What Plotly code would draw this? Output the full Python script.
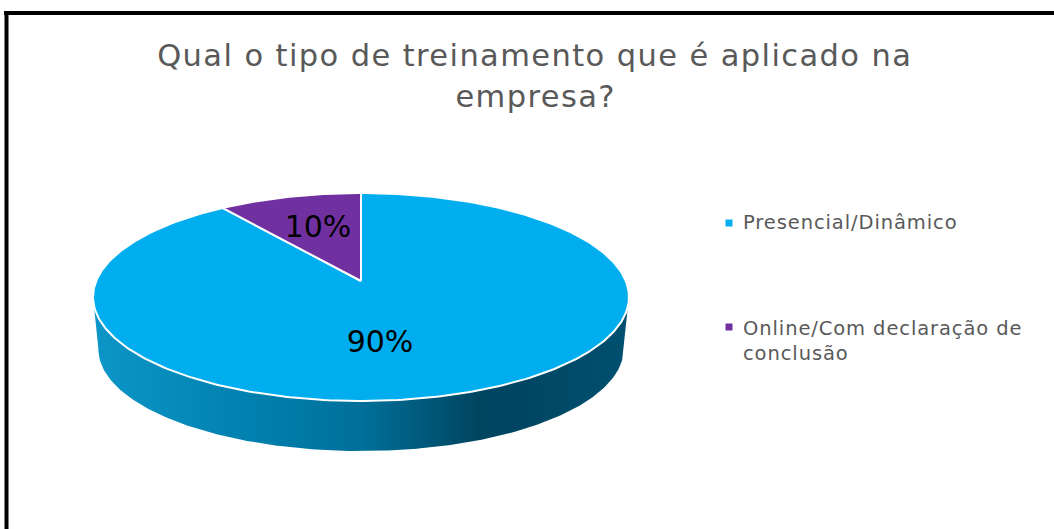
import numpy as np
import plotly.graph_objects as go

TITLE_LINES = ["Qual o tipo de treinamento que é aplicado na", "empresa?"]
categories = [["Presencial/Dinâmico"], ["Online/Com declaração de", "conclusão"]]
values = [90, 10]
labels = ["90%", "10%"]
colors = ["#00AEEF", "#7030A0"]

# pie geometry in page pixels: a disc seen in perspective
CX, APEX_Y = 361, 281
R, S, K = 264.8, 101.5, 0.1538
DEPTH_SCALE, BOTTOM_Y = 0.98, 451
FONT = "DejaVu Sans"


def rim(theta, scale=1.0, y0=APEX_Y):
    u, v = np.sin(theta), np.cos(theta)
    d = 1 + K * v
    return CX + scale * R * u / d, y0 - scale * S * v / d


fig = go.Figure()

# side wall: front part of the lower rim, closed by the upper disc
t = np.linspace(np.pi / 2 + 0.15, 3 * np.pi / 2 - 0.15, 240)
y0_low = BOTTOM_Y - DEPTH_SCALE * S / (1 - K)
xb, yb = rim(t, DEPTH_SCALE, y0_low)
xt, yt = rim(t[::-1])
fig.add_trace(go.Scatter(
    x=np.r_[xt[-1], xb, xt[0], xt[0], xt, xt[-1]], y=np.r_[yt[-1], yb, yt[0], yt[0], yt, yt[-1]],
    mode="lines", line=dict(width=0), fill="toself", hoverinfo="skip",
    fillgradient=dict(type="horizontal", start=93, stop=628, colorscale=[
        [0, "#0C96C8"], [0.3, "#0080AE"], [0.5, "#00709A"],
        [0.72, "#004560"], [0.8, "#004663"], [1, "#00506F"]]),
))

# top slices from the values; first runs clockwise from 12 o'clock
total = sum(values)
start = 0.0
for val, col in zip(values, colors):
    sweep = 2 * np.pi * val / total
    th = np.linspace(start, start + sweep, 360)
    x, y = rim(th)
    fig.add_trace(go.Scatter(
        x=np.r_[CX, x, CX], y=np.r_[APEX_Y, y, APEX_Y], mode="lines",
        line=dict(color="white", width=2), fill="toself", fillcolor=col, hoverinfo="skip",
    ))
    start += sweep

# value labels
fig.add_trace(go.Scatter(
    x=[380, 318], y=[344, 229], mode="text", text=labels, hoverinfo="skip",
    textfont=dict(family=FONT, size=30, color="black"),
))

# legend
fig.add_trace(go.Scatter(
    x=[729, 729], y=[223, 327], mode="markers", hoverinfo="skip",
    marker=dict(symbol="square", size=7, color=colors),
))
for lines, ypos in zip(categories, [222, 328]):
    for i, text in enumerate(lines):
        fig.add_annotation(x=741, y=ypos + 25 * i, xref="x", yref="y", text=text, showarrow=False,
                           xanchor="left", yanchor="middle", align="left",
                           font=dict(family=FONT, size=19.5, color="#595959"))

for i, text in enumerate(TITLE_LINES):
    fig.add_annotation(x=535, y=55 + 41 * i, xref="x", yref="y", text=text, showarrow=False,
                       xanchor="center", yanchor="middle", align="center",
                       font=dict(family=FONT, size=30.5, color="#595959"))

# page frame
fig.add_shape(type="line", x0=4, x1=1054, y0=13, y1=13, line=dict(color="black", width=4))
fig.add_shape(type="line", x0=6.5, x1=6.5, y0=12, y1=529, line=dict(color="black", width=4))

fig.update_layout(
    width=1054, height=529, margin=dict(l=0, r=0, t=0, b=0),
    paper_bgcolor="white", plot_bgcolor="white", showlegend=False,
    xaxis=dict(range=[0, 1054], visible=False, fixedrange=True),
    yaxis=dict(range=[529, 0], visible=False, fixedrange=True),
)
POST = """document.body.style.margin='0';document.body.style.overflow='hidden';
document.querySelectorAll('.annotation-text').forEach(function(n){
  n.style.letterSpacing = parseFloat(n.style.fontSize) > 25 ? '1.4px' : '0.9px';
});"""
fig.write_html("out.html", post_script=POST, config=dict(displayModeBar=False))
